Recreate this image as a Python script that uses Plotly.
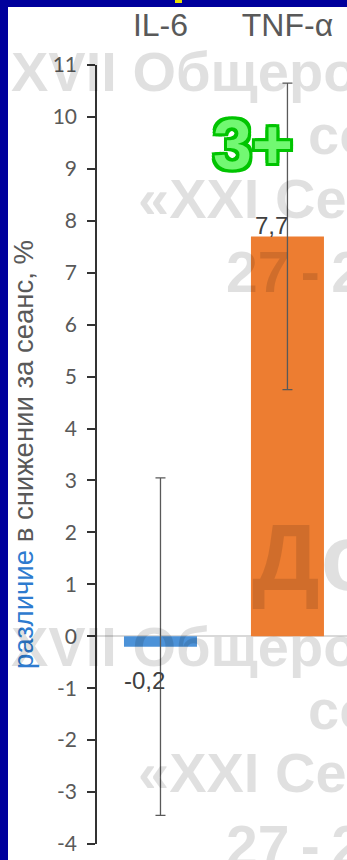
import plotly.graph_objects as go

# ---- data ----
categories = ["IL-6", "TNF-α"]
values = [-0.2, 7.7]
errors = [3.25, 2.95]
bar_colors = ["#4C92D8", "#ED7D31"]
y_ticks = list(range(-4, 12))
y_tick_labels = [str(v) for v in y_ticks]

# ---- geometry of the plotting area (pixels) ----
W, H = 347, 860
L, R, T, B = 97, 0, 65, 16
PW, PH = W - L - R, H - T - B


def px_x(x):
    return (x - L) / PW


def px_y(y):
    return (H - B - y) / PH


fig = go.Figure()
fig.add_trace(go.Bar(
    x=categories,
    y=values,
    marker=dict(color=bar_colors, line=dict(width=0)),
    error_y=dict(type="data", array=errors, color="#595959",
                 thickness=1.3, width=5),
    hoverinfo="skip",
))

annotations = []

# light background lettering
wm_color = "rgba(0,0,0,0.12)"
wm_lines = [
    ("XVII Общероссийский", 9, 72, 56),
    ("совещание", 306, 135, 56),
    ("«XXI Сеченовские»", 136, 198, 56),
    ("27\u2009-\u200928 сентября", 224, 272, 57),
]
for dy in (0, 574):
    for text, x0, yc, size in wm_lines:
        annotations.append(dict(
            text=text, xref="paper", yref="paper",
            x=px_x(x0), y=px_y(yc + dy), xanchor="left", yanchor="middle",
            showarrow=False,
            font=dict(family="Liberation Sans", size=size, color=wm_color,
                      weight="bold")))
annotations.append(dict(
    text="Доклад", xref="paper", yref="paper",
    x=px_x(250), y=px_y(557), xanchor="left", yanchor="middle",
    showarrow=False,
    font=dict(family="Liberation Sans", size=95, color=wm_color,
              weight="bold")))

# value labels
label_shift = {0: -34, 1: 11}
for i, (c, v) in enumerate(zip(categories, values)):
    annotations.append(dict(
        text=f"{v:.1f}".replace(".", ","), x=c, y=v, xref="x", yref="y",
        xshift=-16, yshift=label_shift[i], showarrow=False,
        xanchor="center", yanchor="middle",
        font=dict(family="Liberation Sans", size=24, color="#404040")))

# green badge
g = "#00C400"
outline = ", ".join(f"{dx}px {dy}px 0 {g}" for dx, dy in
                    [(-3, -3), (3, -3), (-3, 3), (3, 3), (0, 3), (0, -3),
                     (3, 0), (-3, 0)])
annotations.append(dict(
    text="3+", xref="paper", yref="paper", x=px_x(253), y=px_y(145),
    xanchor="center", yanchor="middle", showarrow=False,
    font=dict(family="Liberation Sans", size=70, color="#72F872",
              weight="bold", shadow=outline)))

shapes = [
    # dark blue frame on the left and top
    dict(type="rect", xref="paper", yref="paper", layer="above",
         x0=px_x(0), x1=px_x(8), y0=px_y(H), y1=px_y(0),
         fillcolor="#00009C", line=dict(width=0)),
    dict(type="rect", xref="paper", yref="paper", layer="above",
         x0=px_x(0), x1=px_x(W), y0=px_y(7), y1=px_y(0),
         fillcolor="#00009C", line=dict(width=0)),
    dict(type="rect", xref="paper", yref="paper", layer="above",
         x0=px_x(175), x1=px_x(182), y0=px_y(3), y1=px_y(0),
         fillcolor="#E8E000", line=dict(width=0)),
]

fig.update_layout(
    width=W, height=H,
    margin=dict(l=L, r=R, t=T, b=B, pad=0),
    paper_bgcolor="white", plot_bgcolor="white",
    showlegend=False,
    bargap=0.425,
    annotations=annotations,
    shapes=shapes,
    xaxis=dict(
        type="category", side="top", range=[-0.5, 1.469],
        showline=False, ticks="", showgrid=False, zeroline=False,
        tickfont=dict(family="Liberation Sans", size=32, color="#595959"),
        ticklabelstandoff=22,
    ),
    yaxis=dict(
        range=[-4, 11], tickvals=y_ticks, ticktext=y_tick_labels,
        ticks="outside", ticklen=8, tickwidth=1.6, tickcolor="#333333",
        showline=True, linecolor="#333333", linewidth=1.6,
        showgrid=False,
        zeroline=True, zerolinecolor="#d9d9d9", zerolinewidth=1.5,
        tickfont=dict(family="Lato", size=21, color="#595959"),
        ticklabelstandoff=6,
        title=dict(
            text="<span style='color:#2E7BCF'>различие</span>"
                 " в снижении за сеанс, %",
            font=dict(family="Liberation Sans", size=27.5, color="#595959"),
            standoff=11,
        ),
    ),
)

fig.write_html("out.html")
